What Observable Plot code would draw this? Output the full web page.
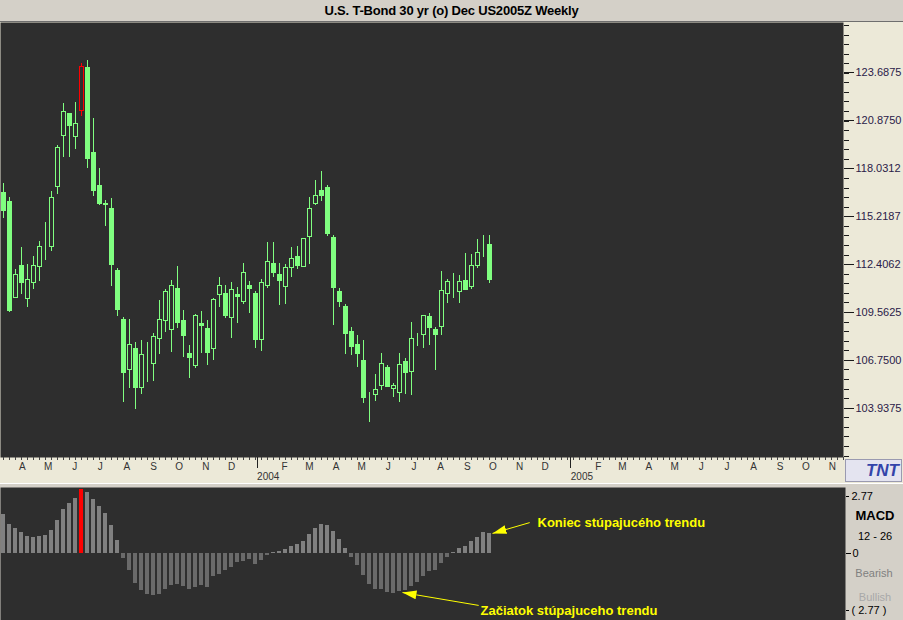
<!DOCTYPE html>
<html>
<head>
<meta charset="utf-8">
<script src="https://cdn.jsdelivr.net/npm/d3@7"></script>
<script src="https://cdn.jsdelivr.net/npm/@observablehq/plot@0.6"></script>
<style>
  html, body { margin: 0; padding: 0; background: #2e2e2e; }
  #wrap { position: relative; width: 903px; height: 620px; overflow: hidden; background: #ece9d8;
          font-family: "Liberation Sans", Arial, sans-serif; }
  #title { position: absolute; left: 0; top: 0; width: 903px; height: 21px; background: #d4d0c8;
           border-bottom: 1px solid #6e6e6e; text-align: center; line-height: 22px;
           font-size: 13px; font-weight: bold; color: #000; letter-spacing: -0.2px; }
  #main { position: absolute; left: 0; top: 22px; }
  #sep { position: absolute; left: 0; top: 483px; width: 903px; height: 3px; background: #d4d0c8;
         border-top: 1px solid #ffffff; }
  #macd { position: absolute; left: 0; top: 487px; }
  #tnt { position: absolute; left: 845px; top: 459px; background: #e4e4f0;
         border: 1px solid #9a9ab0; color: #3344aa; font-weight: bold; font-style: italic; font-size: 17px;
         line-height: 21px; text-align: right; padding-right: 2px; box-sizing: border-box; width: 57px; height: 23px; }
  .side { position: absolute; font-family: "Liberation Sans", Arial, sans-serif; white-space: nowrap;
          transform: translate(-50%, -50%); }
</style>
</head>
<body>
<div id="wrap">
  <div id="title">U.S. T-Bond 30 yr (o) Dec US2005Z Weekly</div>
  <div id="main"></div>
  <div id="sep"></div>
  <div id="tnt">TNT</div>
  <div id="macd"></div>
  <div class="side" style="left:875px;top:515px;font-size:13px;font-weight:bold;color:#000;">MACD</div>
  <div class="side" style="left:875px;top:536px;font-size:11px;color:#000;">12 - 26</div>
  <div class="side" style="left:874px;top:573px;font-size:11px;color:#808080;">Bearish</div>
  <div class="side" style="left:875px;top:597px;font-size:11px;color:#a8a8a8;">Bullish</div>
</div>
<script>
// ---------------- DATA ----------------
const firstWeek = "2003-03-10";          // date of the first weekly bar
const open = [116.56,116.03,110.40,112.32,110.34,111.28,112.22,113.50,113.40,116.93,
  119.92,121.26,119.86,121.39,123.96,118.91,116.97,115.97,115.67,112.03,
  109.15,106.17,107.39,105.11,107.44,106.52,108.03,109.05,108.52,110.97,
  109.09,107.15,106.40,108.91,108.62,107.40,110.58,110.68,109.23,110.62,
  110.17,111.15,110.68,107.93,111.11,112.44,111.74,111.05,112.16,112.85,
  112.22,113.99,115.93,116.73,116.91,113.97,110.79,109.91,108.44,107.68,
  106.74,104.46,104.70,105.25,106.33,105.05,104.82,106.68,106.05,108.06,
  108.23,109.27,108.56,108.70,110.64,111.09,110.75,111.44,111.05,112.28,
  113.44,113.56];
const high = [117.14,116.32,112.09,113.38,112.38,112.85,113.73,114.85,116.67,119.38,
  121.85,121.26,121.90,124.20,124.37,120.96,118.03,116.14,116.26,112.15,
  109.27,109.15,107.80,107.91,107.80,108.33,110.27,110.91,111.44,112.26,
  109.68,107.62,109.44,109.62,109.09,110.38,111.62,111.15,111.32,111.03,
  112.44,111.38,110.79,111.50,113.68,113.68,112.44,112.38,113.38,113.44,
  113.91,116.32,117.32,117.85,117.03,114.09,110.97,110.03,108.68,108.21,
  107.91,104.88,105.93,107.15,106.45,105.40,107.15,106.86,108.97,108.33,
  109.38,109.50,108.68,111.97,111.50,111.85,111.74,113.03,112.97,113.85,
  114.09,114.09];
const low = [115.10,109.56,110.40,110.62,109.87,110.93,111.40,112.63,113.16,116.51,
  118.69,118.69,119.16,121.10,118.04,116.40,115.87,114.63,111.11,109.34,
  104.29,105.11,103.88,104.76,105.46,105.52,107.11,108.40,107.23,108.64,
  106.93,105.70,106.29,107.17,106.46,106.76,109.87,109.23,108.05,108.93,
  110.05,109.52,107.46,107.29,110.99,111.64,110.00,110.05,111.64,112.11,
  112.22,112.40,115.87,116.10,114.05,108.81,109.87,107.11,107.05,106.35,
  104.23,103.11,104.35,104.99,105.17,104.58,104.29,104.76,104.70,107.56,
  107.46,107.64,106.17,108.23,110.11,110.40,110.11,110.87,110.93,112.16,
  112.79,111.27];
const close = [115.52,109.68,111.74,111.27,111.50,112.32,113.44,113.50,116.32,119.26,
  121.32,120.51,120.67,124.02,118.57,116.69,115.97,115.87,112.34,109.70,
  105.99,107.68,105.11,107.09,107.44,108.15,109.15,110.74,111.15,108.93,
  108.17,106.87,109.33,108.76,107.17,110.27,111.15,109.34,110.91,110.46,
  111.91,110.93,107.93,111.32,112.56,111.87,111.40,112.15,112.68,112.28,
  113.91,115.67,116.44,116.40,114.16,110.99,110.17,108.28,107.52,107.11,
  104.52,104.46,105.03,106.56,105.17,105.27,106.50,105.99,108.03,108.06,
  109.38,108.64,108.23,110.85,111.38,111.09,111.38,110.87,112.32,113.09,
  113.44,111.50];
const signalBar = 13;                    // highlighted (red) week
const macdHist = [1.68,1.25,1.07,0.90,0.72,0.68,0.72,0.77,0.99,1.42,
  1.90,2.16,2.38,2.77,2.64,2.33,2.03,1.72,1.20,0.55,
  -0.23,-0.75,-1.32,-1.62,-1.80,-1.84,-1.80,-1.58,-1.41,-1.36,
  -1.45,-1.58,-1.49,-1.41,-1.49,-1.01,-0.93,-0.75,-0.61,-0.39,
  -0.36,-0.28,-0.48,-0.32,-0.09,0.04,0.09,0.16,0.29,0.39,
  0.51,0.81,1.06,1.25,1.20,0.94,0.59,0.20,-0.17,-0.54,
  -0.97,-1.36,-1.58,-1.58,-1.71,-1.75,-1.67,-1.62,-1.45,-1.28,
  -1.01,-0.80,-0.75,-0.45,-0.17,0.04,0.20,0.29,0.51,0.68,
  0.90,0.86];
const priceTicks = [103.9375,106.75,109.5625,112.40625,115.21875,118.03125,120.875,123.6875];
const priceTickLabels = ["103.9375","106.7500","109.5625","112.4062","115.2187","118.0312","120.8750","123.6875"];
const priceMinorStep = 0.5625;
const monthLetters = ["J","F","M","A","M","J","J","A","S","O","N","D"];
const macdMax = 2.77;
const macdTickLabels = ["2.77","0","( 2.77 )"];
const annotations = [
  {text: "Koniec stúpajucého trendu", week: 89, value: 1.31, fromWeek: 87.7, fromValue: 1.33, toWeek: 81.5, toValue: 0.86},
  {text: "Začiatok stúpajuceho trendu", week: 79.5, value: -2.52, fromWeek: 79.2, fromValue: -2.27, toWeek: 66.5, toValue: -1.71}
];

// ---------------- STYLE ----------------
const BG = "#2e2e2e", GREEN = "#80ff80", RED = "#ff0000", BEIGE = "#ece9d8", PANEL = "#d4d0c8";
const DAY = 864e5;
const pxPerDay = 6 / 7;               // 6 px per weekly bar
const t0 = new Date(firstWeek + "T00:00:00Z").getTime();
const dateAt = w => new Date(t0 + w * 7 * DAY);
const halfBody = 2 / pxPerDay * DAY;

const candles = open.map((o, i) => ({
  date: dateAt(i), open: o, high: high[i], low: low[i], close: close[i],
  color: i === signalBar ? RED : GREEN,
  fill: close[i] >= open[i] ? BG : (i === signalBar ? RED : GREEN)
}));

const mainW = 903, mainH = 461, mainRight = 60, mainBottom = 26;
const xDomainMain = [new Date(t0 - 3 / pxPerDay * DAY), new Date(t0 + (mainW - mainRight - 3) / pxPerDay * DAY)];

const months = d3.utcMonths(xDomainMain[0], xDomainMain[1]);
const monthTicks = months.filter(d => d.getUTCMonth() !== 0);
const yearTicks = months.filter(d => d.getUTCMonth() === 0);
const weekTicks = d3.range(-1, 170).map(dateAt).filter(d => d >= xDomainMain[0] && d <= xDomainMain[1]);
const minorTicks = d3.range(-6, 42).map(k => priceTicks[0] + k * priceMinorStep)
  .filter(v => v > 101.1 && v < 126.6 && !priceTicks.includes(v));

const crisp = {shapeRendering: "crispEdges"};

const main = Plot.plot({
  width: mainW, height: mainH,
  marginTop: 0, marginBottom: mainBottom, marginLeft: 0, marginRight: mainRight,
  style: {background: BEIGE, fontFamily: "Liberation Sans, Arial, sans-serif", color: "#1a1a1a", overflow: "visible"},
  x: {type: "utc", domain: xDomainMain, axis: null},
  y: {domain: [101.04, 126.61], axis: null},
  marks: [
    Plot.frame({fill: BG, stroke: null}),
    Plot.ruleX(candles, {x: "date", y1: "low", y2: "high", stroke: "color", strokeWidth: 1, ...crisp}),
    Plot.rect(candles, {
      x1: d => new Date(+d.date - halfBody), x2: d => new Date(+d.date + halfBody),
      y1: "open", y2: "close", fill: "fill", stroke: "color", strokeWidth: 1, ...crisp
    }),
    // price axis (right)
    Plot.axisY(minorTicks, {anchor: "right", tickSize: 5, tickFormat: () => "", stroke: "#1a1a1a", ...crisp}),
    Plot.axisY(priceTicks, {anchor: "right", tickSize: 10, tickPadding: 2, fontSize: 11, fill: "#2a2048",
      stroke: "#1a1a1a", textAnchor: "start", ...crisp,
      tickFormat: d => priceTickLabels[priceTicks.indexOf(d)]}),
    // time axis (bottom)
    Plot.axisX(weekTicks, {anchor: "bottom", tickSize: 3, tickFormat: () => "", stroke: "#444", ...crisp}),
    Plot.axisX(monthTicks, {anchor: "bottom", tickSize: 0, tickPadding: 5, fontSize: 10, fill: "#333",
      tickFormat: d => monthLetters[d.getUTCMonth()]}),
    Plot.axisX(yearTicks, {anchor: "bottom", tickSize: 11, tickPadding: 4, fontSize: 10, fill: "#333",
      stroke: "#222", textAnchor: "start", dx: -1, ...crisp, tickFormat: d => String(d.getUTCFullYear())})
  ]
});
document.getElementById("main").appendChild(main);

// ---------------- MACD PANEL ----------------
const macdW = 903, macdH = 133, macdRight = 58;
const xDomainMacd = [new Date(t0 - 3 / pxPerDay * DAY), new Date(t0 + (macdW - macdRight - 3) / pxPerDay * DAY)];
const halfBar = 2 / pxPerDay * DAY;
const bars = macdHist.map((v, i) => ({
  date: dateAt(i), value: v,
  fill: i === signalBar ? RED : (v >= 0 ? "#808080" : "#6a6a6a")
}));
const arrows = annotations.map(a => ({x1: dateAt(a.fromWeek), y1: a.fromValue, x2: dateAt(a.toWeek), y2: a.toValue}));
const labels = annotations.map(a => ({x: dateAt(a.week), y: a.value, text: a.text}));

const macd = Plot.plot({
  width: macdW, height: macdH,
  marginTop: 0, marginBottom: 0, marginLeft: 0, marginRight: macdRight,
  style: {background: PANEL, fontFamily: "Liberation Sans, Arial, sans-serif", color: "#1a1a1a", overflow: "visible"},
  x: {type: "utc", domain: xDomainMacd, axis: null},
  y: {domain: [-2.926, 2.857], axis: null},
  marks: [
    Plot.frame({fill: BG, stroke: null}),
    Plot.rect(bars, {
      x1: d => new Date(+d.date - halfBar), x2: d => new Date(+d.date + halfBar),
      y1: () => 0, y2: "value", fill: "fill", ...crisp
    }),
    Plot.link(arrows, {x1: "x1", y1: "y1", x2: "x2", y2: "y2", stroke: "#ffff00", strokeWidth: 1}),
    Plot.text(labels, {x: "x", y: "y", text: "text", fill: "#ffff00", fontWeight: "bold", fontSize: 13, textAnchor: "start"}),
    Plot.axisY([0], {anchor: "right", tickSize: 5, tickPadding: 2, fontSize: 11, fill: "#000", stroke: "#000",
      textAnchor: "start", ...crisp, tickFormat: () => macdTickLabels[1]}),
    Plot.axisY([macdMax], {anchor: "right", tickSize: 3, tickPadding: 3, fontSize: 11, fill: "#000", stroke: "#000",
      textAnchor: "start", dy: 7, ...crisp, tickFormat: () => macdTickLabels[0]}),
    Plot.axisY([-macdMax], {anchor: "right", tickSize: 3, tickPadding: 3, fontSize: 11, fill: "#000", stroke: "#000",
      textAnchor: "start", dy: -6, ...crisp, tickFormat: () => macdTickLabels[2]})
  ]
});
document.getElementById("macd").appendChild(macd);

// filled arrowheads for the annotation links
const svgSel = d3.select(macd.tagName.toLowerCase() === "svg" ? macd : macd.querySelector("svg"));
const defs = svgSel.append("defs");
defs.append("marker").attr("id", "ahead").attr("markerUnits", "userSpaceOnUse")
  .attr("markerWidth", 15).attr("markerHeight", 10).attr("refX", 14).attr("refY", 4.5)
  .attr("orient", "auto")
  .append("path").attr("d", "M0,0L14,4.5L0,9Z").attr("fill", "#ffff00");
svgSel.selectAll('g[aria-label="link"] path').attr("marker-end", "url(#ahead)");
</script>
</body>
</html>
